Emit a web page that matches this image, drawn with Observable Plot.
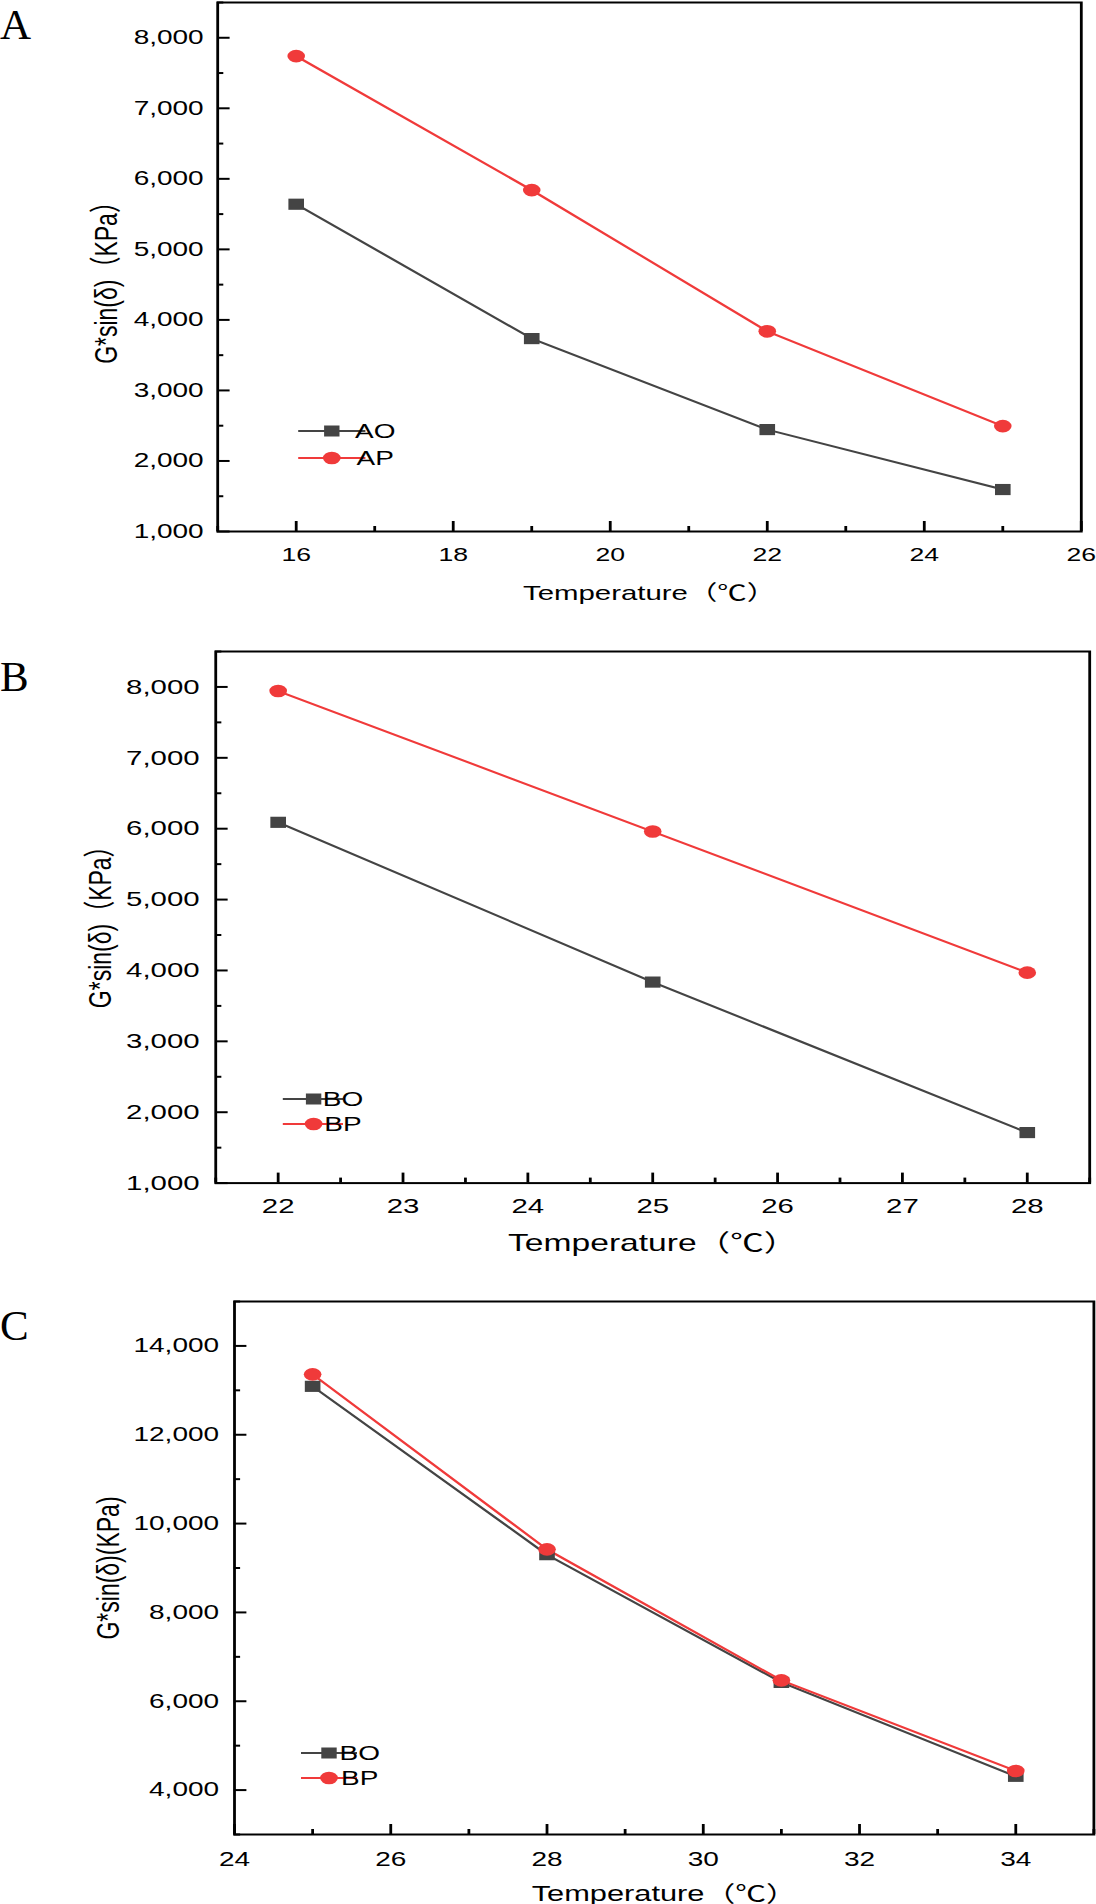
<!DOCTYPE html>
<html><head><meta charset="utf-8">
<script src="https://cdn.jsdelivr.net/npm/d3@7"></script>
<script src="https://cdn.jsdelivr.net/npm/@observablehq/plot@0.6"></script>
<style>
body{margin:0;background:#fff;}
#root{position:relative;width:1096px;height:1904px;background:#fff;overflow:hidden;}
.letter{position:absolute;left:0;font-family:"Liberation Serif","DejaVu Serif",serif;font-size:43px;line-height:43px;color:#000;}
</style></head><body><div id="root"></div>
<script>
// ---- data ----
const tempA = [16, 19, 22, 25];
const seriesAO = [5640, 3735, 2445, 1595];
const seriesAP = [7740, 5840, 3838, 2494];

const tempB = [22, 25, 28];
const seriesBO = [6090, 3836, 1713];
const seriesBP = [7942, 5960, 3969];

const tempC = [25, 28, 31, 34];
const seriesCO = [13090, 9300, 6424, 4310];
const seriesCP = [13360, 9420, 6470, 4430];

const xTicksA = [16, 18, 20, 22, 24, 26], xMinorA = [15, 17, 19, 21, 23, 25];
const yTicksA = [1000, 2000, 3000, 4000, 5000, 6000, 7000, 8000], yMinorA = [1500, 2500, 3500, 4500, 5500, 6500, 7500, 8500];
const xTicksB = [22, 23, 24, 25, 26, 27, 28], xMinorB = [21.5, 22.5, 23.5, 24.5, 25.5, 26.5, 27.5, 28.5];
const yTicksB = yTicksA, yMinorB = yMinorA;
const xTicksC = [24, 26, 28, 30, 32, 34], xMinorC = [25, 27, 29, 31, 33, 35];
const yTicksC = [4000, 6000, 8000, 10000, 12000, 14000], yMinorC = [3000, 5000, 7000, 9000, 11000, 13000, 15000];

const SX = 1.4, W = 1096 / SX;
const colO = "#444444", colP = "#f03a3a";
const FONT = '"Liberation Sans", Arial, "Noto Sans CJK SC", sans-serif';
const root = document.getElementById("root");
const fmtY = d3.format(",");
const fmtX = d => String(d);

function panel(c) {
  const innerH = c.height - c.mt - c.mb;
  const innerW = W - c.ml - c.mr;
  const rowsO = c.temps.map((t, i) => ({t, v: c.O[i]}));
  const rowsP = c.temps.map((t, i) => ({t, v: c.P[i]}));
  const svg = Plot.plot({
    width: W, height: c.height,
    marginTop: c.mt, marginBottom: c.mb, marginLeft: c.ml, marginRight: c.mr,
    style: {fontFamily: FONT, fontSize: c.tickFont + "px", color: "#000", background: "transparent"},
    x: {domain: c.xDomain},
    y: {domain: c.yDomain},
    marks: [
      Plot.axisX({ticks: c.xTicks, tickSize: 0, tickPadding: c.xPad, tickFormat: fmtX, label: null, fontSize: c.xTickFont || c.tickFont}),
      Plot.axisY({ticks: c.yTicks, tickSize: 0, tickPadding: c.yPad, tickFormat: fmtY, label: null, fontSize: c.tickFont}),
      Plot.tickX(c.xTicks, {x: d => d, insetTop: innerH - 10, strokeWidth: 2, stroke: "#000"}),
      Plot.tickX(c.xMinor, {x: d => d, insetTop: innerH - 5, strokeWidth: 2, stroke: "#000"}),
      Plot.tickY(c.yTicks, {y: d => d, insetRight: innerW - 9, strokeWidth: 2, stroke: "#000"}),
      Plot.tickY(c.yMinor, {y: d => d, insetRight: innerW - 4.5, strokeWidth: 2, stroke: "#000"}),
      Plot.line(rowsO, {x: "t", y: "v", stroke: colO, strokeWidth: 2}),
      Plot.line(rowsP, {x: "t", y: "v", stroke: colP, strokeWidth: 2}),
      Plot.dot(rowsO, {x: "t", y: "v", symbol: "square", r: 6.3, fill: colO}),
      Plot.dot(rowsP, {x: "t", y: "v", symbol: "circle", r: 6.3, fill: colP}),
      Plot.frame({stroke: "#000", strokeWidth: 2}),
      Plot.text([c.xTitle], {text: d => d, frameAnchor: "bottom", dy: c.xTitleDy, textAnchor: "middle", lineAnchor: "middle", fontSize: c.titleFont, fill: "#000"}),
      Plot.text([c.yTitle], {text: d => d, frameAnchor: "left", dx: c.yTitleDx, dy: c.yTitleDy, rotate: -90, textAnchor: "middle", lineAnchor: "middle", fontSize: c.yTitleFont, fill: "#000"})
    ]
  });
  // legend
  const g = d3.select(svg).append("g").attr("font-family", FONT).attr("font-size", c.legFont);
  [[c.nameO, colO, "square", c.leg.y1], [c.nameP, colP, "circle", c.leg.y2]].forEach(([name, col, sym, y]) => {
    g.append("line").attr("x1", c.leg.x1).attr("x2", c.leg.x2).attr("y1", y).attr("y2", y)
      .attr("stroke", col).attr("stroke-width", 2);
    if (sym === "square") {
      const s = 11;
      g.append("rect").attr("x", c.leg.mx - s / 2).attr("y", y - s / 2).attr("width", s).attr("height", s).attr("fill", col);
    } else {
      g.append("circle").attr("cx", c.leg.mx).attr("cy", y).attr("r", 6.3).attr("fill", col);
    }
    g.append("text").attr("x", c.leg.tx).attr("y", y).attr("dy", "0.36em").attr("fill", "#000").text(name);
  });
  svg.setAttribute("width", 1096);
  svg.setAttribute("height", c.height);
  svg.setAttribute("preserveAspectRatio", "none");
  svg.style.position = "absolute";
  svg.style.left = "0px";
  svg.style.top = c.top + "px";
  svg.style.width = "1096px";
  svg.style.height = c.height + "px";
  svg.style.maxWidth = "none";
  root.appendChild(svg);
  const L = document.createElement("div");
  L.className = "letter";
  L.style.top = c.letterTop + "px";
  L.textContent = c.letter;
  root.appendChild(L);
}

panel({
  letter: "A", letterTop: 3, top: 0, height: 620, mt: 2, mb: 89, ml: 155, mr: 11,
  temps: tempA, O: seriesAO, P: seriesAP, nameO: "AO", nameP: "AP",
  xDomain: [15, 26], yDomain: [1000, 8500],
  xTicks: xTicksA, xMinor: xMinorA, yTicks: yTicksA, yMinor: yMinorA,
  tickFont: 20, xTickFont: 19, titleFont: 21, yTitleFont: 23, legFont: 20,
  xPad: 16, yPad: 10, xTitleDy: 62, yTitleDx: -79, yTitleDy: 10,
  xTitle: "Temperature（℃）", yTitle: "G*sin(δ)（KPa）",
  leg: {x1: 213, x2: 261, mx: 237, tx: 268, y1: 431, y2: 458}
});
panel({
  letter: "B", letterTop: 655, top: 640, height: 620, mt: 11, mb: 77.4, ml: 153.6, mr: 5,
  temps: tempB, O: seriesBO, P: seriesBP, nameO: "BO", nameP: "BP",
  xDomain: [21.5, 28.5], yDomain: [1000, 8500],
  xTicks: xTicksB, xMinor: xMinorB, yTicks: yTicksB, yMinor: yMinorB,
  tickFont: 21, titleFont: 24, yTitleFont: 23, legFont: 20,
  xPad: 15, yPad: 11.5, xTitleDy: 60, yTitleDx: -82, yTitleDy: 4,
  xTitle: "Temperature（℃）", yTitle: "G*sin(δ)（KPa）",
  leg: {x1: 202, x2: 245, mx: 224, tx: 245, y1: 459, y2: 484}
});
panel({
  letter: "C", letterTop: 1304, top: 1280, height: 624, mt: 21, mb: 70, ml: 167, mr: 2,
  temps: tempC, O: seriesCO, P: seriesCP, nameO: "BO", nameP: "BP",
  xDomain: [24, 35], yDomain: [3000, 15000],
  xTicks: xTicksC, xMinor: xMinorC, yTicks: yTicksC, yMinor: yMinorC,
  tickFont: 20, titleFont: 22, yTitleFont: 23, legFont: 20,
  xPad: 17, yPad: 11, xTitleDy: 59, yTitleDx: -90, yTitleDy: 0,
  xTitle: "Temperature（℃）", yTitle: "G*sin(δ)(KPa)",
  leg: {x1: 215, x2: 255, mx: 235, tx: 257, y1: 473, y2: 498}
});
</script></body></html>
